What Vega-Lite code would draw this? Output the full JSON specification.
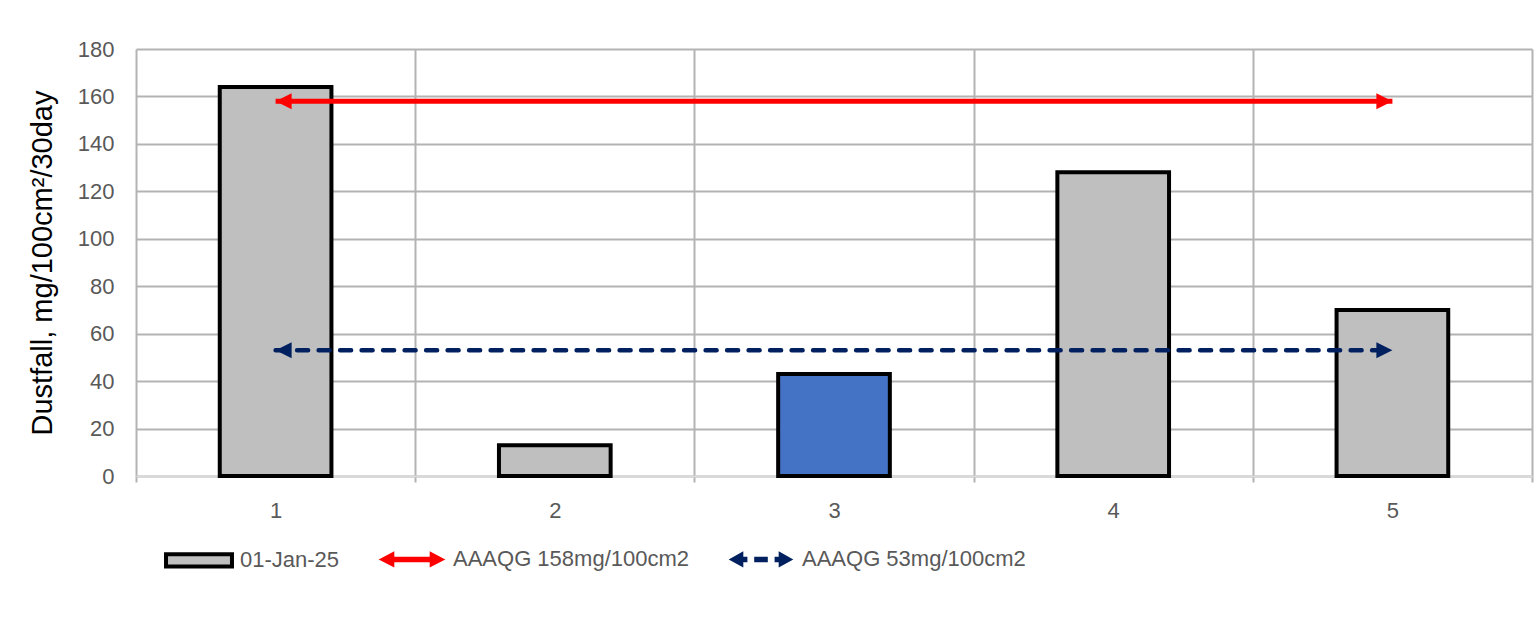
{
  "$schema": "https://vega.github.io/schema/vega-lite/v6.json",
  "width": 1396,
  "height": 427,
  "padding": {"left": 28, "top": 38, "right": 2, "bottom": 5},
  "background": "white",
  "config": {
    "font": "Liberation Sans",
    "view": {"stroke": null},
    "legend": {
      "labelFontSize": 22,
      "labelColor": "#595959",
      "labelOffset": 5,
      "labelLimit": 0,
      "columnPadding": 30,
      "padding": 0,
      "symbolSize": 4624,
      "symbolStrokeWidth": 4,
      "symbolOpacity": 1
    }
  },
  "datasets": {
    "bars": [
      {"site": "1", "value": 164},
      {"site": "2", "value": 13},
      {"site": "3", "value": 43},
      {"site": "4", "value": 128},
      {"site": "5", "value": 70}
    ],
    "guides": [
      {"series": "red", "site": "1", "value": 158, "end": "L"},
      {"series": "red", "site": "5", "value": 158, "end": "R"},
      {"series": "blue", "site": "1", "value": 53, "end": "L"},
      {"series": "blue", "site": "5", "value": 53, "end": "R"}
    ],
    "legendItems": [
      {"legendLabel": "01-Jan-25", "site": "1", "value": -50},
      {"legendLabel": "AAAQG 158mg/100cm2", "site": "1", "value": -50},
      {"legendLabel": "AAAQG 53mg/100cm2", "site": "1", "value": -50}
    ]
  },
  "encoding": {
    "x": {
      "field": "site",
      "type": "ordinal",
      "scale": {"domain": ["1", "2", "3", "4", "5"], "paddingInner": 0, "paddingOuter": 0},
      "axis": {
        "title": null,
        "labelAngle": 0,
        "labelFontSize": 22,
        "labelColor": "#595959",
        "labelPadding": 18,
        "tickBand": "extent",
        "grid": true,
        "gridColor": "#B3B3B3",
        "gridWidth": 2,
        "ticks": true,
        "tickSize": 6,
        "tickColor": "#B3B3B3",
        "tickWidth": 2,
        "domainColor": "#D9D9D9",
        "domainWidth": 2
      }
    },
    "y": {
      "field": "value",
      "type": "quantitative",
      "scale": {"domain": [0, 180], "nice": false},
      "axis": {
        "title": "Dustfall, mg/100cm²/30day",
        "titleFontSize": 29,
        "titleFontWeight": "normal",
        "titleColor": "#000000",
        "titlePadding": 20,
        "values": [0, 20, 40, 60, 80, 100, 120, 140, 160, 180],
        "grid": true,
        "gridColor": "#B3B3B3",
        "gridWidth": 2,
        "ticks": false,
        "domain": false,
        "labelFontSize": 22,
        "labelColor": "#595959",
        "labelPadding": 22
      }
    }
  },
  "layer": [
    {
      "data": {"name": "bars"},
      "mark": {"type": "bar", "width": {"band": 0.4}, "stroke": "#000000", "strokeWidth": 4},
      "encoding": {
        "fill": {"condition": {"test": "datum.site === '3'", "value": "#4472C4"}, "value": "#BFBFBF"}
      }
    },
    {
      "data": {"name": "guides"},
      "transform": [{"filter": "datum.series === 'red'"}],
      "mark": {"type": "line", "stroke": "#FF0000", "strokeWidth": 5},
      "encoding": {}
    },
    {
      "data": {"name": "guides"},
      "transform": [{"filter": "datum.series === 'blue'"}],
      "mark": {"type": "line", "stroke": "#002060", "strokeWidth": 4.5, "strokeDash": [11, 10.5], "strokeCap": "round"},
      "encoding": {}
    },
    {
      "data": {"name": "guides"},
      "transform": [{"filter": "datum.end === 'L'"}],
      "mark": {"type": "point", "filled": true, "opacity": 1, "strokeWidth": 0, "size": 400, "shape": "M0,0L1.6,-0.8L1.6,0.8Z"},
      "encoding": {
        "fill": {"condition": {"test": "datum.series === 'red'", "value": "#FF0000"}, "value": "#002060"}
      }
    },
    {
      "data": {"name": "guides"},
      "transform": [{"filter": "datum.end === 'R'"}],
      "mark": {"type": "point", "filled": true, "opacity": 1, "strokeWidth": 0, "size": 400, "shape": "M0,0L-1.6,-0.8L-1.6,0.8Z"},
      "encoding": {
        "fill": {"condition": {"test": "datum.series === 'red'", "value": "#FF0000"}, "value": "#002060"}
      }
    },
    {
      "data": {"name": "legendItems"},
      "mark": {"type": "point", "clip": true, "opacity": 1, "size": 4624, "strokeWidth": 4},
      "encoding": {
        "shape": {
          "field": "legendLabel",
          "type": "nominal",
          "scale": {
            "domain": ["01-Jan-25", "AAAQG 158mg/100cm2", "AAAQG 53mg/100cm2"],
            "range": [
              "M-0.97,-0.18H0.97V0.18H-0.97Z",
              "M-0.98,0L-0.52,-0.24L-0.52,-0.08L0.52,-0.08L0.52,-0.24L0.98,0L0.52,0.24L0.52,0.08L-0.52,0.08L-0.52,0.24Z",
              "M-0.95,0L-0.52,-0.24L-0.52,-0.08L-0.4,-0.08L-0.4,0.08L-0.52,0.08L-0.52,0.24Z M-0.2,-0.08L0.2,-0.08L0.2,0.08L-0.2,0.08Z M0.95,0L0.52,-0.24L0.52,-0.08L0.4,-0.08L0.4,0.08L0.52,0.08L0.52,0.24Z"
            ]
          },
          "legend": {"title": null, "orient": "none", "legendX": 27, "legendY": 474, "direction": "horizontal"}
        },
        "fill": {
          "field": "legendLabel",
          "type": "nominal",
          "scale": {
            "domain": ["01-Jan-25", "AAAQG 158mg/100cm2", "AAAQG 53mg/100cm2"],
            "range": ["#BFBFBF", "#FF0000", "#002060"]
          },
          "legend": {"title": null, "orient": "none", "legendX": 27, "legendY": 474, "direction": "horizontal"}
        },
        "stroke": {
          "field": "legendLabel",
          "type": "nominal",
          "scale": {
            "domain": ["01-Jan-25", "AAAQG 158mg/100cm2", "AAAQG 53mg/100cm2"],
            "range": ["#000000", "rgba(0,0,0,0)", "rgba(0,0,0,0)"]
          },
          "legend": {"title": null, "orient": "none", "legendX": 27, "legendY": 474, "direction": "horizontal"}
        }
      }
    }
  ]
}
